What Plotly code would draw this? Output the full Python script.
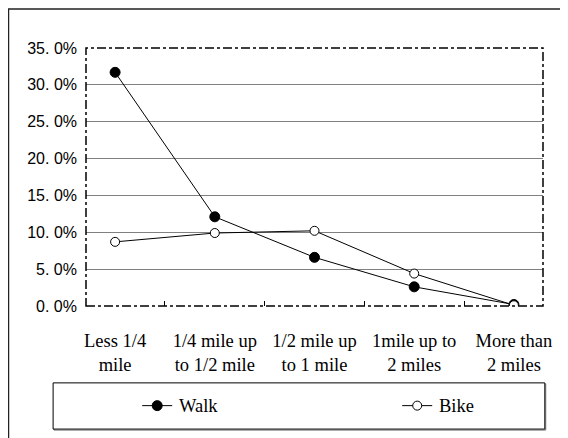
import plotly.graph_objects as go

# ======================================================
# DATA
# ======================================================
categories = ["Less 1/4<br>mile", "1/4 mile up<br>to 1/2 mile", "1/2 mile up<br>to 1 mile",
              "1mile up to<br>2 miles", "More than<br>2 miles"]
walk = [31.7, 12.1, 6.6, 2.6, 0.2]
bike = [8.7, 9.9, 10.2, 4.4, 0.1]
series_names = ["Walk", "Bike"]
y_ticks = [0, 5, 10, 15, 20, 25, 30, 35]
y_labels = ["0. 0%", "5. 0%", "10. 0%", "15. 0%", "20. 0%", "25. 0%", "30. 0%", "35. 0%"]

SERIF = "Liberation Serif"
SANS = "Liberation Sans, Arial, sans-serif"

fig = go.Figure()

# legend text is drawn with annotations (legend font kept coming out sans),
# so the legend entries themselves only carry the symbols
fig.add_trace(go.Scatter(
    x=categories, y=walk, name=" ", mode="lines+markers",
    line=dict(color="black", width=1),
    marker=dict(symbol="circle", size=10, color="black", line=dict(color="black", width=1)),
    legend="legend", hovertext=series_names[0],
))
fig.add_trace(go.Scatter(
    x=categories, y=bike, name=" ", mode="lines+markers",
    line=dict(color="black", width=1),
    marker=dict(symbol="circle", size=9, color="white", line=dict(color="black", width=1)),
    legend="legend2", hovertext=series_names[1],
))

# --------------------------
# FRAMES
# --------------------------
shapes = [
    # outer chart border
    dict(type="rect", xref="paper", yref="paper", x0=-0.1696, x1=1.07, y0=-0.56, y1=1.151,
         line=dict(color="#222", width=1.5), layer="below"),
    # plot area border (dash-dot)
    dict(type="rect", xref="paper", yref="paper", x0=0, x1=1, y0=0, y1=1,
         line=dict(color="black", width=1.5, dash="dashdot")),
    # legend box shadow + box
    dict(type="rect", xref="paper", yref="paper", x0=-0.070, x1=1.006, y0=-0.481, y1=-0.302,
         line=dict(color="#777", width=1), layer="below"),
    dict(type="rect", xref="paper", yref="paper", x0=-0.072, x1=1.004, y0=-0.477, y1=-0.298,
         fillcolor="white", line=dict(color="black", width=1), layer="below"),
]

annotations = [
    dict(text=series_names[0], xref="paper", yref="paper", x=0.199, y=-0.388,
         xanchor="left", yanchor="middle", showarrow=False,
         font=dict(family=SERIF, size=18.5, color="black")),
    dict(text=series_names[1], xref="paper", yref="paper", x=0.768, y=-0.388,
         xanchor="left", yanchor="middle", showarrow=False,
         font=dict(family=SERIF, size=18.5, color="black")),
]

fig.update_layout(
    width=560, height=430,
    margin=dict(l=78, r=25, t=40, b=132),
    font=dict(family=SERIF, size=18.5, color="black"),
    paper_bgcolor="white", plot_bgcolor="rgba(0,0,0,0)",
    shapes=shapes,
    annotations=annotations,
    showlegend=True,
    legend=dict(
        x=0.112, orientation="h", xanchor="left", y=-0.388, yanchor="middle",
        bgcolor="rgba(0,0,0,0)",
    ),
    legend2=dict(
        x=0.681, orientation="h", xanchor="left", y=-0.388, yanchor="middle",
        bgcolor="rgba(0,0,0,0)",
    ),
    xaxis=dict(
        type="category", showgrid=False, zeroline=False, showline=False,
        ticks="inside", tickson="boundaries", ticklen=5, tickcolor="black",
        tickfont=dict(family=SERIF, size=18.5, color="black"),
        ticklabelstandoff=21,
    ),
    yaxis=dict(
        range=[0, 35], tickvals=y_ticks, ticktext=y_labels,
        showgrid=True, gridcolor="#808080", gridwidth=1,
        zeroline=False, showline=False, ticks="",
        tickfont=dict(family=SANS, size=16, color="black"),
        ticklabelstandoff=8,
    ),
)

fig.write_html("out.html")
